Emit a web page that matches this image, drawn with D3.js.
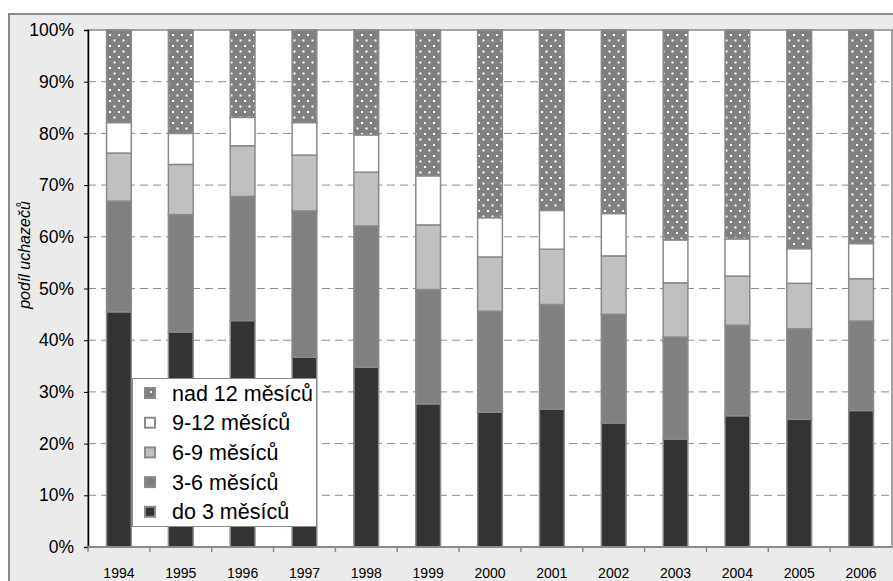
<!DOCTYPE html>
<html><head><meta charset="utf-8">
<script src="https://cdn.jsdelivr.net/npm/d3@7"></script>
<style>html,body{margin:0;padding:0;background:#fff}svg{display:block}</style>
</head><body>
<script>
const years = ["1994","1995","1996","1997","1998","1999","2000","2001","2002","2003","2004","2005","2006"];
const seriesNames = ["do 3 měsíců","3-6 měsíců","6-9 měsíců","9-12 měsíců","nad 12 měsíců"];
const do3   = [45.5, 41.6, 43.8, 36.7, 34.8, 27.7, 26.1, 26.7, 24.0, 20.9, 25.4, 24.7, 26.4];
const m3_6  = [21.4, 22.7, 24.0, 28.3, 27.3, 22.1, 19.5, 20.2, 21.0, 19.7, 17.5, 17.5, 17.3];
const m6_9  = [ 9.3,  9.7,  9.8, 10.8, 10.4, 12.5, 10.5, 10.7, 11.3, 10.5,  9.5,  8.8,  8.2];
const m9_12 = [ 5.9,  6.0,  5.5,  6.3,  7.2,  9.5,  7.6,  7.5,  8.2,  8.3,  7.2,  6.7,  6.8];
const nad12 = [17.9, 20.0, 16.9, 17.9, 20.3, 28.2, 36.3, 34.9, 35.5, 40.6, 40.4, 42.3, 41.3];
const yTicks = [0,10,20,30,40,50,60,70,80,90,100];
const yTitle = "podíl uchazečů";

(function(){
const FONT = "'Liberation Sans', Arial, sans-serif";
const W = 893, H = 581;
const svg = d3.select("body").append("svg").attr("width", W).attr("height", H);
const defs = svg.append("defs");
const pat = defs.append("pattern").attr("id","dots").attr("patternUnits","userSpaceOnUse")
  .attr("width",9).attr("height",11);
pat.append("rect").attr("width",9).attr("height",11).attr("fill","#808080");
pat.append("rect").attr("x",1).attr("y",1).attr("width",2).attr("height",2).attr("fill","#fff");
pat.append("rect").attr("x",5.5).attr("y",6.5).attr("width",2).attr("height",2).attr("fill","#fff");

const fills = ["#333333","#808080","#c0c0c0","#ffffff","url(#dots)"];
const legendFills = ["#333333","#808080","#c0c0c0","#ffffff","#808080"];

// outer frame
svg.append("rect").attr("x",9).attr("y",14).attr("width",W+20).attr("height",H+20)
  .attr("fill","#ebebeb").attr("stroke","#8a8a8a").attr("stroke-width",2);

const pL = 88, pR = 892, pT = 30, pB = 547;
svg.append("rect").attr("x",pL).attr("y",pT).attr("width",pR-pL).attr("height",pB-pT)
  .attr("fill","#fff").attr("stroke","#8a8a8a").attr("stroke-width",1.5);

const x = d3.scaleBand().domain(years).range([pL,pR]).paddingInner(0.6).paddingOuter(0.3);
const y = d3.scaleLinear().domain([0,100]).range([pB,pT]);

// gridlines
svg.append("g").selectAll("line").data(yTicks.filter(t=>t>0&&t<100)).join("line")
  .attr("x1",pL).attr("x2",pR).attr("y1",d=>y(d)).attr("y2",d=>y(d))
  .attr("stroke","#8c8c8c").attr("stroke-width",1).attr("stroke-dasharray","8,5");

// stacked bars
const rows = years.map((yr,i)=>({year:yr, "do 3 měsíců":do3[i], "3-6 měsíců":m3_6[i], "6-9 měsíců":m6_9[i], "9-12 měsíců":m9_12[i], "nad 12 měsíců":nad12[i]}));
const stack = d3.stack().keys(seriesNames)(rows);
svg.append("g").selectAll("g").data(stack).join("g")
  .attr("fill",(d,i)=>fills[i])
  .selectAll("rect").data(d=>d).join("rect")
  .attr("x",d=>x(d.data.year)).attr("width",x.bandwidth())
  .attr("y",d=>y(d[1])).attr("height",d=>y(d[0])-y(d[1]))
  .attr("stroke","#8a8a8a").attr("stroke-width",1.5);

// y axis
const yAxis = d3.axisLeft(y).tickValues(yTicks).tickFormat(d=>d+"%").tickSize(4).tickPadding(10);
const ga = svg.append("g").attr("transform",`translate(${pL},0)`).call(yAxis);
ga.select(".domain").attr("stroke","#000").attr("stroke-width",1.5);
ga.selectAll(".tick line").attr("stroke","#000");
ga.selectAll("text").attr("font-family",FONT).attr("font-size",17.5).attr("fill","#000");

// x axis
const xb = svg.append("g");
xb.append("line").attr("x1",pL).attr("x2",pR).attr("y1",pB).attr("y2",pB)
  .attr("stroke","#8a8a8a").attr("stroke-width",2);
xb.selectAll("line.t").data(years).join("line").attr("class","t")
  .attr("x1",d=>x(d)-x.step()*x.paddingOuter()).attr("x2",d=>x(d)-x.step()*x.paddingOuter())
  .attr("y1",pB).attr("y2",pB+5).attr("stroke","#8a8a8a").attr("stroke-width",1.5);
xb.selectAll("text").data(years).join("text")
  .attr("x",d=>x(d)+x.bandwidth()/2).attr("y",578).attr("text-anchor","middle")
  .attr("font-family",FONT).attr("font-size",14).attr("fill","#000")
  .text(d=>d);

// y title
svg.append("text").attr("transform","translate(30,255) rotate(-90)").attr("text-anchor","middle")
  .attr("font-family",FONT).attr("font-size",16).attr("font-style","italic")
  .text(yTitle);

// legend
const lg = svg.append("g");
lg.append("rect").attr("x",132.5).attr("y",378.5).attr("width",184).attr("height",148)
  .attr("fill","#fff").attr("stroke","#8a8a8a").attr("stroke-width",1);
const legendOrder = seriesNames.map((n,i)=>i).reverse();
const li = lg.selectAll("g").data(legendOrder).join("g")
  .attr("transform",(d,k)=>`translate(0,${393 + k*29.7})`);
li.append("rect").attr("x",145).attr("y",-5).attr("width",10).attr("height",10)
  .attr("fill",d=>legendFills[d]).attr("stroke","#8a8a8a").attr("stroke-width",2);
li.filter(d=>d===4).append("rect").attr("x",150).attr("y",-2).attr("width",2).attr("height",2).attr("fill","#fff");
li.append("text").attr("x",172).attr("y",7.5).attr("font-family",FONT)
  .attr("font-size",21.5).attr("fill","#000").text(d=>seriesNames[d]);
})();
</script>
</body></html>
